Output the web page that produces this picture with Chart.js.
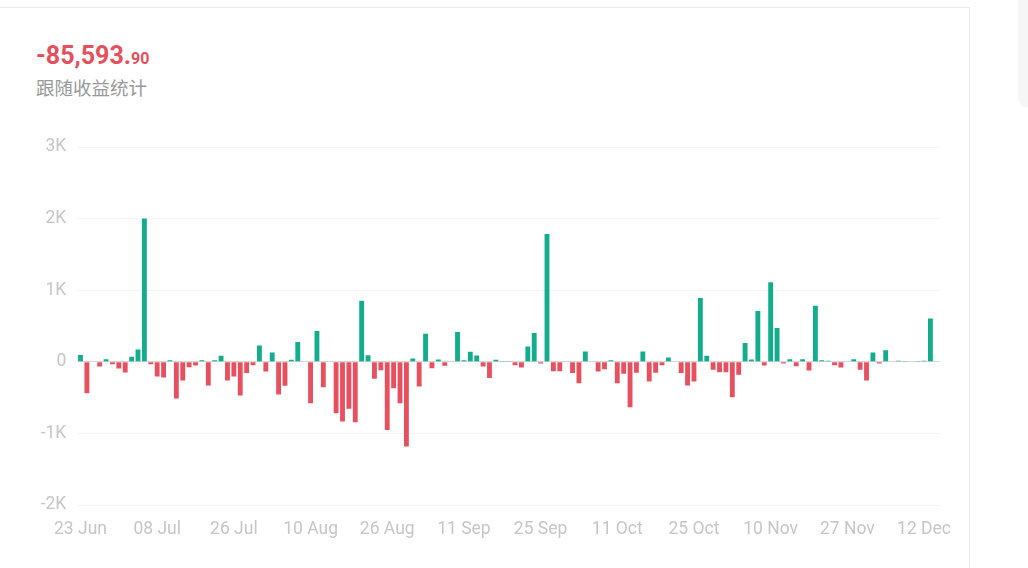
<!DOCTYPE html>
<html>
<head>
<meta charset="utf-8">
<script src="https://cdn.jsdelivr.net/npm/chart.js@4.4.1/dist/chart.umd.min.js"></script>
<style>
  html, body { margin: 0; padding: 0; background: #fff; }
  body { width: 1028px; height: 568px; position: relative; overflow: hidden; font-family: Roboto, "Noto Sans CJK SC", sans-serif; }
  .card { position: absolute; left: -1px; top: 7px; width: 971px; height: 600px; border-top: 1px solid #e9e9e9; border-right: 1px solid #e9e9e9; box-sizing: border-box; }
  .side { position: absolute; left: 1018px; top: 0; width: 20px; height: 108px; background: #f6f6f6; border-bottom-left-radius: 10px; }
  .total { position: absolute; left: 36px; top: 41px; color: #e5505e; font-weight: 700; white-space: nowrap; }
  .total .big { font-size: 25px; }
  .total .small { font-size: 16px; }
  .sub { position: absolute; left: 36px; top: 74px; color: #999; font-size: 18.5px; font-family: "Noto Sans CJK SC", sans-serif; }
  #chart { position: absolute; left: 0; top: 120px; }
</style>
</head>
<body>
<div class="card"></div>
<div class="side"></div>
<div class="total"><span class="big">-85,593.</span><span class="small">90</span></div>
<div class="sub">跟随收益统计</div>
<canvas id="chart" width="970" height="420"></canvas>
<script>
// ===============================
//  DATI
// ===============================
const tickLabels = ["23 Jun", "08 Jul", "26 Jul", "10 Aug", "26 Aug", "11 Sep",
  "25 Sep", "11 Oct", "25 Oct", "10 Nov", "27 Nov", "12 Dec"];

// one value per bar (daily profit)
const values = [
  95, -440, 0, -65, 37, -33, -93, -150, 70, 172, 2000, -33,
  -205, -220, 20, -513, -261, -75, -51, 23, -331, 20, 84, -260,
  -205, -470, -158, -47, 228, -135, 130, -457, -336, 28, 275, 0,
  -578, 429, -354, 0, -718, -834, -657, -845, 853, 93, -238, -117,
  -951, -368, -578, -1184, 47, -345, 392, -89, 33, -56, 0, 415,
  23, 140, 89, -65, -228, 30, 5, 10, -47, -79, 215, 401,
  -23, 1786, -131, -131, 0, -158, -298, 145, 0, -135, -103, 23,
  -298, -168, -634, -154, 145, -275, -154, -47, 61, 0, -158, -331,
  -275, 890, 84, -112, -145, -145, -494, -182, 261, 33, 709, -51,
  1110, 471, -23, 37, -61, 37, -121, 783, 23, 14, -47, -79,
  0, 37, -112, -261, 130, -23, 163, -8, 14, 3, 9, 3,
  14, 606, 0
];

const yTicks = [-2000, -1000, 0, 1000, 2000, 3000];

const GREEN = "#12ad8c";
const RED = "#e8505f";

// a label every 12 bars
const labels = values.map((v, i) => (i % 12 === 0 ? tickLabels[i / 12] : ""));

// ===============================
//  GRAFICO
// ===============================
const ctx = document.getElementById("chart").getContext("2d");

new Chart(ctx, {
  type: "bar",
  data: {
    labels,
    datasets: [{
      data: values,
      backgroundColor: values.map(v => (v >= 0 ? GREEN : RED)),
      borderWidth: 0,
      categoryPercentage: 1,
      barPercentage: 0.76
    }]
  },
  options: {
    responsive: false,
    animation: false,
    devicePixelRatio: 1,
    layout: { padding: { top: 27, right: 30, bottom: 0, left: 0 } },
    plugins: { legend: { display: false }, tooltip: { enabled: false } },
    scales: {
      x: {
        offset: true,
        grid: { display: false },
        border: { display: false },
        ticks: {
          autoSkip: false,
          maxRotation: 0,
          padding: 6,
          color: "#c6c6c6",
          font: { family: "Roboto", size: 17.5 }
        },
        afterFit: s => { s.height = 35; }
      },
      y: {
        min: -2000,
        max: 3000,
        afterBuildTicks: s => { s.ticks = yTicks.map(v => ({ value: v })); },
        grid: {
          drawTicks: false,
          color: c => (c.tick && c.tick.value === 0 ? "#d6d6d6" : "#f3f3f3")
        },
        border: { display: false },
        ticks: {
          padding: 11,
          color: "#c6c6c6",
          font: { family: "Roboto", size: 17.5 },
          callback: v => (v === 0 ? "0" : v / 1000 + "K")
        },
        afterFit: s => { s.width = 77.3; }
      }
    }
  }
});
</script>
</body>
</html>
